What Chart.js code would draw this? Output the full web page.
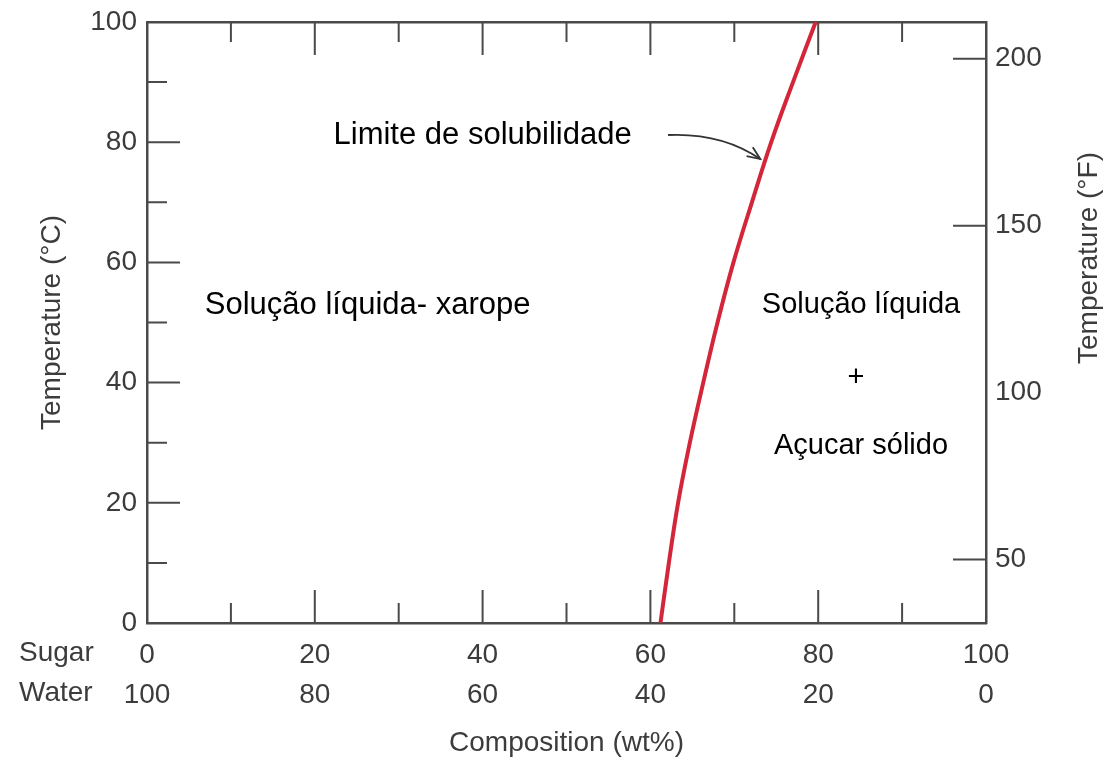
<!DOCTYPE html>
<html>
<head>
<meta charset="utf-8">
<script src="https://cdn.jsdelivr.net/npm/chart.js@4.4.1/dist/chart.umd.min.js"></script>
<style>
  body { margin: 0; background: #fff; }
  #wrap { width: 1105px; height: 761px; }
</style>
</head>
<body>
<div id="wrap"><canvas id="chart" width="1105" height="761"></canvas></div>
<script>
// solubility limit
const tempC = [0, 10, 20, 30, 40, 50, 60, 70, 80, 90, 100];
const sugarWt = [61.2, 62.2, 63.3, 64.7, 66.3, 68.0, 69.9, 72.1, 74.4, 77.0, 79.7];

const sugarTicks = [0, 20, 40, 60, 80, 100];
const waterTicks = [100, 80, 60, 40, 20, 0];
const celsiusTicks = [0, 20, 40, 60, 80, 100];
const fahrenheitTicks = [50, 100, 150, 200];
const fahrenheitMarks = [50, 150, 200];
const minorTicks = [10, 20, 30, 40, 50, 60, 70, 80, 90];

const axisFont = "'Liberation Sans', Arial, sans-serif";
const axisColor = '#3c3c3c';
const lineColor = '#4a4a4a';

function drawInnerTicks(chart) {
    const ctx = chart.ctx;
    const area = chart.chartArea;
    const x = chart.scales.x;
    const y = chart.scales.y;
    const y2 = chart.scales.y2;
    ctx.save();
    ctx.strokeStyle = lineColor;
    ctx.lineWidth = 2;
    ctx.beginPath();
    for (let v of minorTicks) {
        let len = v % 20 === 0 ? 33 : 20;
        let px = x.getPixelForValue(v);
        ctx.moveTo(px, area.bottom);
        ctx.lineTo(px, area.bottom - len);
        ctx.moveTo(px, area.top);
        ctx.lineTo(px, area.top + len);
        let py = y.getPixelForValue(v);
        ctx.moveTo(area.left, py);
        ctx.lineTo(area.left + len, py);
    }
    for (let v of fahrenheitMarks) {
        let py = y2.getPixelForValue(v);
        ctx.moveTo(area.right, py);
        ctx.lineTo(area.right - 33, py);
    }
    ctx.stroke();
    ctx.restore();
}

function drawText(chart, text, xv, yv, size) {
    const ctx = chart.ctx;
    ctx.save();
    ctx.font = size + "px 'Liberation Sans', Arial, sans-serif";
    ctx.fillStyle = '#000';
    ctx.textAlign = 'center';
    ctx.textBaseline = 'middle';
    ctx.fillText(text, chart.scales.x.getPixelForValue(xv), chart.scales.y.getPixelForValue(yv));
    ctx.restore();
}

function drawArrow(chart) {
    const ctx = chart.ctx;
    const x = chart.scales.x;
    const y = chart.scales.y;
    let x0 = x.getPixelForValue(62.1), y0 = y.getPixelForValue(81.2);
    let cx = x.getPixelForValue(68.5), cy = y.getPixelForValue(81.6);
    let x1 = x.getPixelForValue(73.1), y1 = y.getPixelForValue(77.2);
    ctx.save();
    ctx.strokeStyle = '#333';
    ctx.lineWidth = 1.8;
    ctx.beginPath();
    ctx.moveTo(x0, y0);
    ctx.quadraticCurveTo(cx, cy, x1, y1);
    ctx.stroke();
    let ang = Math.atan2(y1 - cy, x1 - cx);
    ctx.beginPath();
    ctx.moveTo(x1 - 14 * Math.cos(ang - 0.4), y1 - 14 * Math.sin(ang - 0.4));
    ctx.lineTo(x1, y1);
    ctx.lineTo(x1 - 14 * Math.cos(ang + 0.4), y1 - 14 * Math.sin(ang + 0.4));
    ctx.stroke();
    ctx.restore();
}

const extras = {
    id: 'extras',
    afterDraw(chart) {
        const ctx = chart.ctx;
        drawInnerTicks(chart);

        // row names under the composition axis
        ctx.save();
        ctx.font = '28px ' + axisFont;
        ctx.fillStyle = axisColor;
        ctx.textAlign = 'left';
        ctx.textBaseline = 'middle';
        ctx.fillText('Sugar', 19, 653);
        ctx.fillText('Water', 19, 693);

        // right axis title reads bottom to top
        ctx.translate(1089, 258);
        ctx.rotate(-Math.PI / 2);
        ctx.textAlign = 'center';
        ctx.fillText('Temperature (°F)', 0, 0);
        ctx.restore();

        drawText(chart, 'Limite de solubilidade', 40.0, 81.2, 31);
        drawText(chart, 'Solução líquida- xarope', 26.3, 52.9, 31);
        drawText(chart, 'Solução líquida', 85.1, 52.9, 29);
        drawText(chart, '+', 84.5, 40.8, 29);
        drawText(chart, 'Açucar sólido', 85.1, 29.4, 29);
        drawArrow(chart);
    }
};

const tickFont = { family: axisFont, size: 28 };

function fixWidth(w) {
    return s => {
        s.width = w;
        s.paddingTop = 0;
        s.paddingBottom = 0;
    };
}

new Chart(document.getElementById('chart'), {
    type: 'line',
    data: {
        datasets: [{
            label: 'Limite de solubilidade',
            data: tempC.map((t, i) => ({ x: sugarWt[i], y: t })),
            borderColor: '#d3263a',
            borderWidth: 4,
            pointRadius: 0,
            tension: 0.4,
            xAxisID: 'x',
            yAxisID: 'y'
        }]
    },
    options: {
        responsive: false,
        animation: false,
        layout: { padding: 0 },
        plugins: { legend: { display: false }, tooltip: { enabled: false } },
        scales: {
            x: {
                type: 'linear', position: 'bottom', min: 0, max: 100,
                afterBuildTicks: s => { s.ticks = sugarTicks.map(v => ({ value: v })); },
                afterFit: s => { s.height = 138; s.paddingLeft = 0; s.paddingRight = 0; },
                grid: { display: false, drawTicks: false, tickLength: 0 },
                border: { display: true, color: lineColor, width: 2.5 },
                ticks: {
                    padding: 12, color: axisColor, maxRotation: 0, autoSkip: false,
                    font: { family: axisFont, size: 28, lineHeight: 40 / 28 },
                    callback: v => [String(v), String(waterTicks[sugarTicks.indexOf(v)])]
                },
                title: {
                    display: true, text: 'Composition (wt%)', color: axisColor,
                    font: tickFont, padding: { top: 0, bottom: 1 }
                }
            },
            x2: {
                type: 'linear', position: 'top', min: 0, max: 100,
                afterFit: s => { s.height = 22; },
                grid: { display: false, drawTicks: false, tickLength: 0 },
                border: { display: true, color: lineColor, width: 2.5 },
                ticks: { display: false }
            },
            y: {
                type: 'linear', position: 'left', min: 0, max: 100,
                afterBuildTicks: s => { s.ticks = celsiusTicks.map(v => ({ value: v })); },
                afterFit: fixWidth(147),
                grid: { display: false, drawTicks: false, tickLength: 0 },
                border: { display: true, color: lineColor, width: 2.5 },
                ticks: { padding: 10, color: axisColor, font: tickFont },
                title: {
                    display: true, text: 'Temperature (°C)', color: axisColor,
                    font: tickFont, padding: { top: 35, bottom: 0 }
                }
            },
            y2: {
                type: 'linear', position: 'right', min: 31, max: 211,
                afterBuildTicks: s => { s.ticks = fahrenheitTicks.map(v => ({ value: v })); },
                afterFit: fixWidth(119),
                grid: { display: false, drawTicks: false, tickLength: 0 },
                border: { display: true, color: lineColor, width: 2.5 },
                ticks: { padding: 9, color: axisColor, font: tickFont }
            }
        }
    },
    plugins: [extras]
});
</script>
</body>
</html>
